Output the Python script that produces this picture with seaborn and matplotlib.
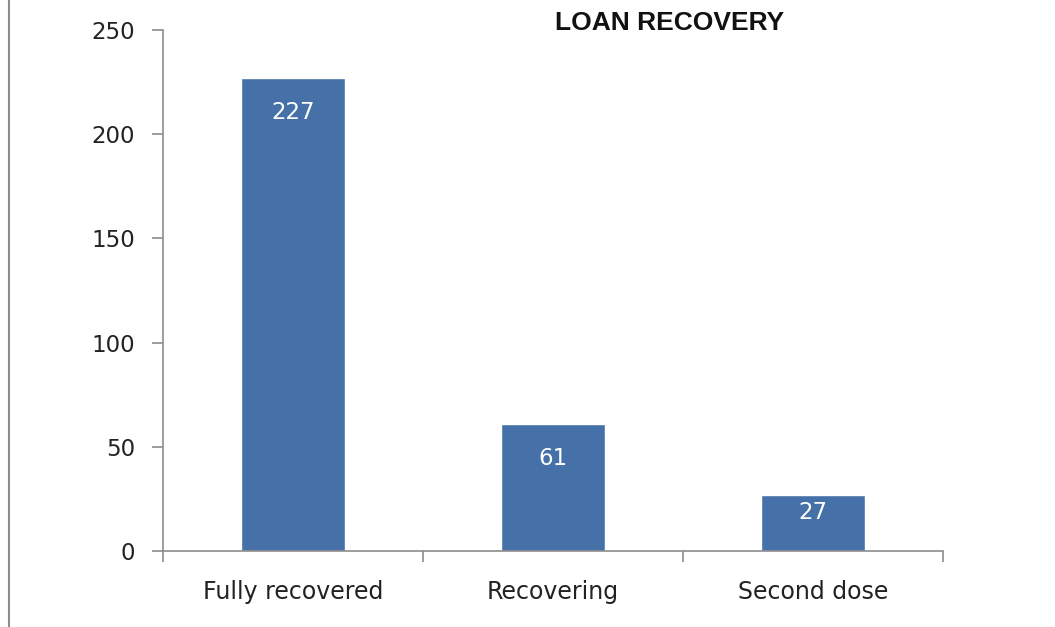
import matplotlib
matplotlib.use("Agg")
import matplotlib.pyplot as plt
from matplotlib.lines import Line2D
import seaborn as sns
import pandas as pd

# Chart data
categories = ["Fully recovered", "Recovering", "Second dose"]
counts = [227, 61, 27]
y_ticks = [0, 50, 100, 150, 200, 250]

df = pd.DataFrame({"Status": categories, "Count": counts})

sns.set_style("white")
plt.rcParams["font.family"] = ["DejaVu Sans"]

bar_color = "#4571A8"
axis_color = "#8C8C8C"

fig = plt.figure(figsize=(10.55, 6.27), dpi=100)
ax = fig.add_axes([0.1545, 0.1212, 0.7393, 0.8310])

sns.barplot(data=df, x="Status", y="Count", color=bar_color, width=0.40,
            saturation=1, ax=ax)

ax.set_xlim(-0.5, len(categories) - 0.5)
ax.set_ylim(0, 250)
ax.set_yticks(y_ticks)
ax.set_yticklabels([str(t) for t in y_ticks], fontsize=16.5, color="#222222")
ax.set_xlabel("")
ax.set_ylabel("")

# category labels under the axis, ticks at category boundaries
ax.set_xticks(range(len(categories)))
ax.set_xticklabels(categories, fontsize=17, color="#222222")
ax.tick_params(axis="x", which="major", bottom=True, length=0, pad=21)
ax.set_xticks([i - 0.5 for i in range(len(categories) + 1)], minor=True)
ax.tick_params(axis="x", which="minor", bottom=True, length=8, width=1.2,
               color=axis_color, direction="out")
ax.tick_params(axis="y", left=True, length=8, width=1.2, color=axis_color,
               direction="out", pad=12)

for side in ["top", "right"]:
    ax.spines[side].set_visible(False)
for side in ["left", "bottom"]:
    ax.spines[side].set_color(axis_color)
    ax.spines[side].set_linewidth(1.2)

# value labels inside the bars, near the top
px_per_unit = ax.get_position().height * fig.get_figheight() * 72 / 250
for i, v in enumerate(counts):
    off = min(25, 0.32 * v * px_per_unit)
    ax.annotate(str(v), (i, v), xytext=(0, -off), textcoords="offset points",
                ha="center", va="center", color="white", fontsize=16.5)

fig.text(0.635, 0.963, "LOAN RECOVERY", ha="center", va="center",
         fontsize=19, fontweight="bold", color="#111111",
         family=["Liberation Sans", "DejaVu Sans"])

# thin border line on the left edge
fig.add_artist(Line2D([0.0085, 0.0085], [0.0, 1.0], transform=fig.transFigure,
                      color=axis_color, linewidth=1.5))

fig.savefig("out.png", dpi=100)
